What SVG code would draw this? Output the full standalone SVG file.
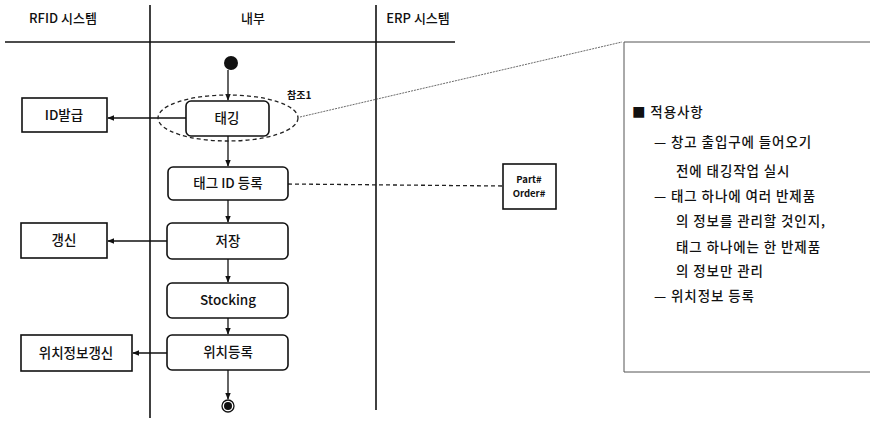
<svg xmlns="http://www.w3.org/2000/svg" width="870" height="421" viewBox="0 0 870 421">
<style>
text{font-family:"Noto Sans CJK KR","Liberation Sans",sans-serif;fill:#111;}
.lbl{font-size:13.5px;text-anchor:middle;font-weight:500;}
.hdr{font-size:13px;text-anchor:middle;font-weight:500;}
.note{font-size:13.5px;letter-spacing:0.9px;font-weight:500;}
.act{fill:#fff;stroke:#111;stroke-width:1.6;}
.box{fill:#fff;stroke:#111;stroke-width:1.6;}
.ln{stroke:#111;stroke-width:1.3;fill:none;}
.lane{stroke:#111;stroke-width:1.6;fill:none;}
.dash{stroke:#222;stroke-width:1.3;fill:none;stroke-dasharray:4,3;}
.dot{stroke:#444;stroke-width:0.8;fill:none;stroke-dasharray:2,1;}
</style>
<defs>
<marker id="ah" viewBox="0 0 10 10" refX="9" refY="5" markerWidth="7" markerHeight="7" orient="auto" markerUnits="userSpaceOnUse">
<path d="M0,1 L10,5 L0,9 z" fill="#111"/>
</marker>
</defs>
<rect width="870" height="421" fill="#fff"/>
<g id="lanes">
<line class="lane" x1="5" y1="42" x2="455" y2="42"/>
<line class="lane" x1="150" y1="5" x2="150" y2="418"/>
<line class="lane" x1="376" y1="5" x2="376" y2="410"/>
<text class="hdr" x="63" y="23">RFID 시스템</text>
<text class="hdr" x="253" y="23">내부</text>
<text class="hdr" x="418" y="23">ERP 시스템</text>
</g>
<g id="connectors">
<line class="ln" x1="228" y1="70" x2="228" y2="100" marker-end="url(#ah)"/>
<line class="ln" x1="228" y1="136" x2="228" y2="166" marker-end="url(#ah)"/>
<line class="ln" x1="228" y1="200" x2="228" y2="222" marker-end="url(#ah)"/>
<line class="ln" x1="228" y1="259" x2="228" y2="282" marker-end="url(#ah)"/>
<line class="ln" x1="228" y1="318" x2="228" y2="334" marker-end="url(#ah)"/>
<line class="ln" x1="228" y1="370" x2="228" y2="399" marker-end="url(#ah)"/>
<line class="ln" x1="186" y1="118" x2="108" y2="118" marker-end="url(#ah)"/>
<line class="ln" x1="167" y1="241" x2="108" y2="241" marker-end="url(#ah)"/>
<line class="ln" x1="167" y1="353" x2="133" y2="353" marker-end="url(#ah)"/>
<line class="dash" x1="288" y1="184" x2="503" y2="186"/>
<line class="dot" x1="300" y1="117" x2="622" y2="42"/>
</g>
<g id="start"><circle cx="231" cy="63" r="7" fill="#111"/></g>
<g id="ref1">
<ellipse cx="228" cy="118" rx="70" ry="23" class="dash"/>
<text x="287" y="99" style="font-size:10px;font-weight:bold">참조1</text>
</g>
<g id="tagging"><rect class="act" x="186" y="101" width="83" height="35" rx="5"/><text class="lbl" x="227" y="123">태깅</text></g>
<g id="tagid"><rect class="act" x="168" y="167" width="120" height="33" rx="5"/><text class="lbl" x="228" y="188">태그 ID 등록</text></g>
<g id="save"><rect class="act" x="167" y="223" width="121" height="36" rx="5"/><text class="lbl" x="228" y="246">저장</text></g>
<g id="stocking"><rect class="act" x="167" y="283" width="121" height="35" rx="5"/><text class="lbl" x="228" y="305">Stocking</text></g>
<g id="locreg"><rect class="act" x="167" y="335" width="121" height="35" rx="5"/><text class="lbl" x="228" y="357">위치등록</text></g>
<g id="end"><circle cx="228" cy="406" r="6" fill="#fff" stroke="#111" stroke-width="1.3"/><circle cx="228" cy="406" r="4" fill="#111"/></g>
<g id="idissue"><rect class="box" x="22" y="98" width="85" height="34"/><text class="lbl" x="64" y="120">ID발급</text></g>
<g id="renew"><rect class="box" x="21" y="223" width="86" height="35"/><text class="lbl" x="64" y="245">갱신</text></g>
<g id="locrenew"><rect class="box" x="21" y="335" width="111" height="36"/><text class="lbl" x="76" y="358">위치정보갱신</text></g>
<g id="partorder"><rect class="box" x="503" y="164" width="53" height="45"/>
<text x="529" y="183" style="font-size:9.5px;font-weight:bold;text-anchor:middle">Part#</text>
<text x="529" y="197" style="font-size:9.5px;font-weight:bold;text-anchor:middle">Order#</text></g>
<g id="note">
<path d="M870,42 L624,42 L624,372 L870,372" fill="#fff" stroke="#555" stroke-width="1"/>
<text class="note" x="632" y="117">■ 적용사항</text>
<text class="note" x="654" y="147">— 창고 출입구에 들어오기</text>
<text class="note" x="676" y="176">전에 태깅작업 실시</text>
<text class="note" x="654" y="201">— 태그 하나에 여러 반제품</text>
<text class="note" x="676" y="226">의 정보를 관리할 것인지,</text>
<text class="note" x="676" y="252">태그 하나에는 한 반제품</text>
<text class="note" x="676" y="276">의 정보만 관리</text>
<text class="note" x="654" y="301">— 위치정보 등록</text>
</g>
</svg>
